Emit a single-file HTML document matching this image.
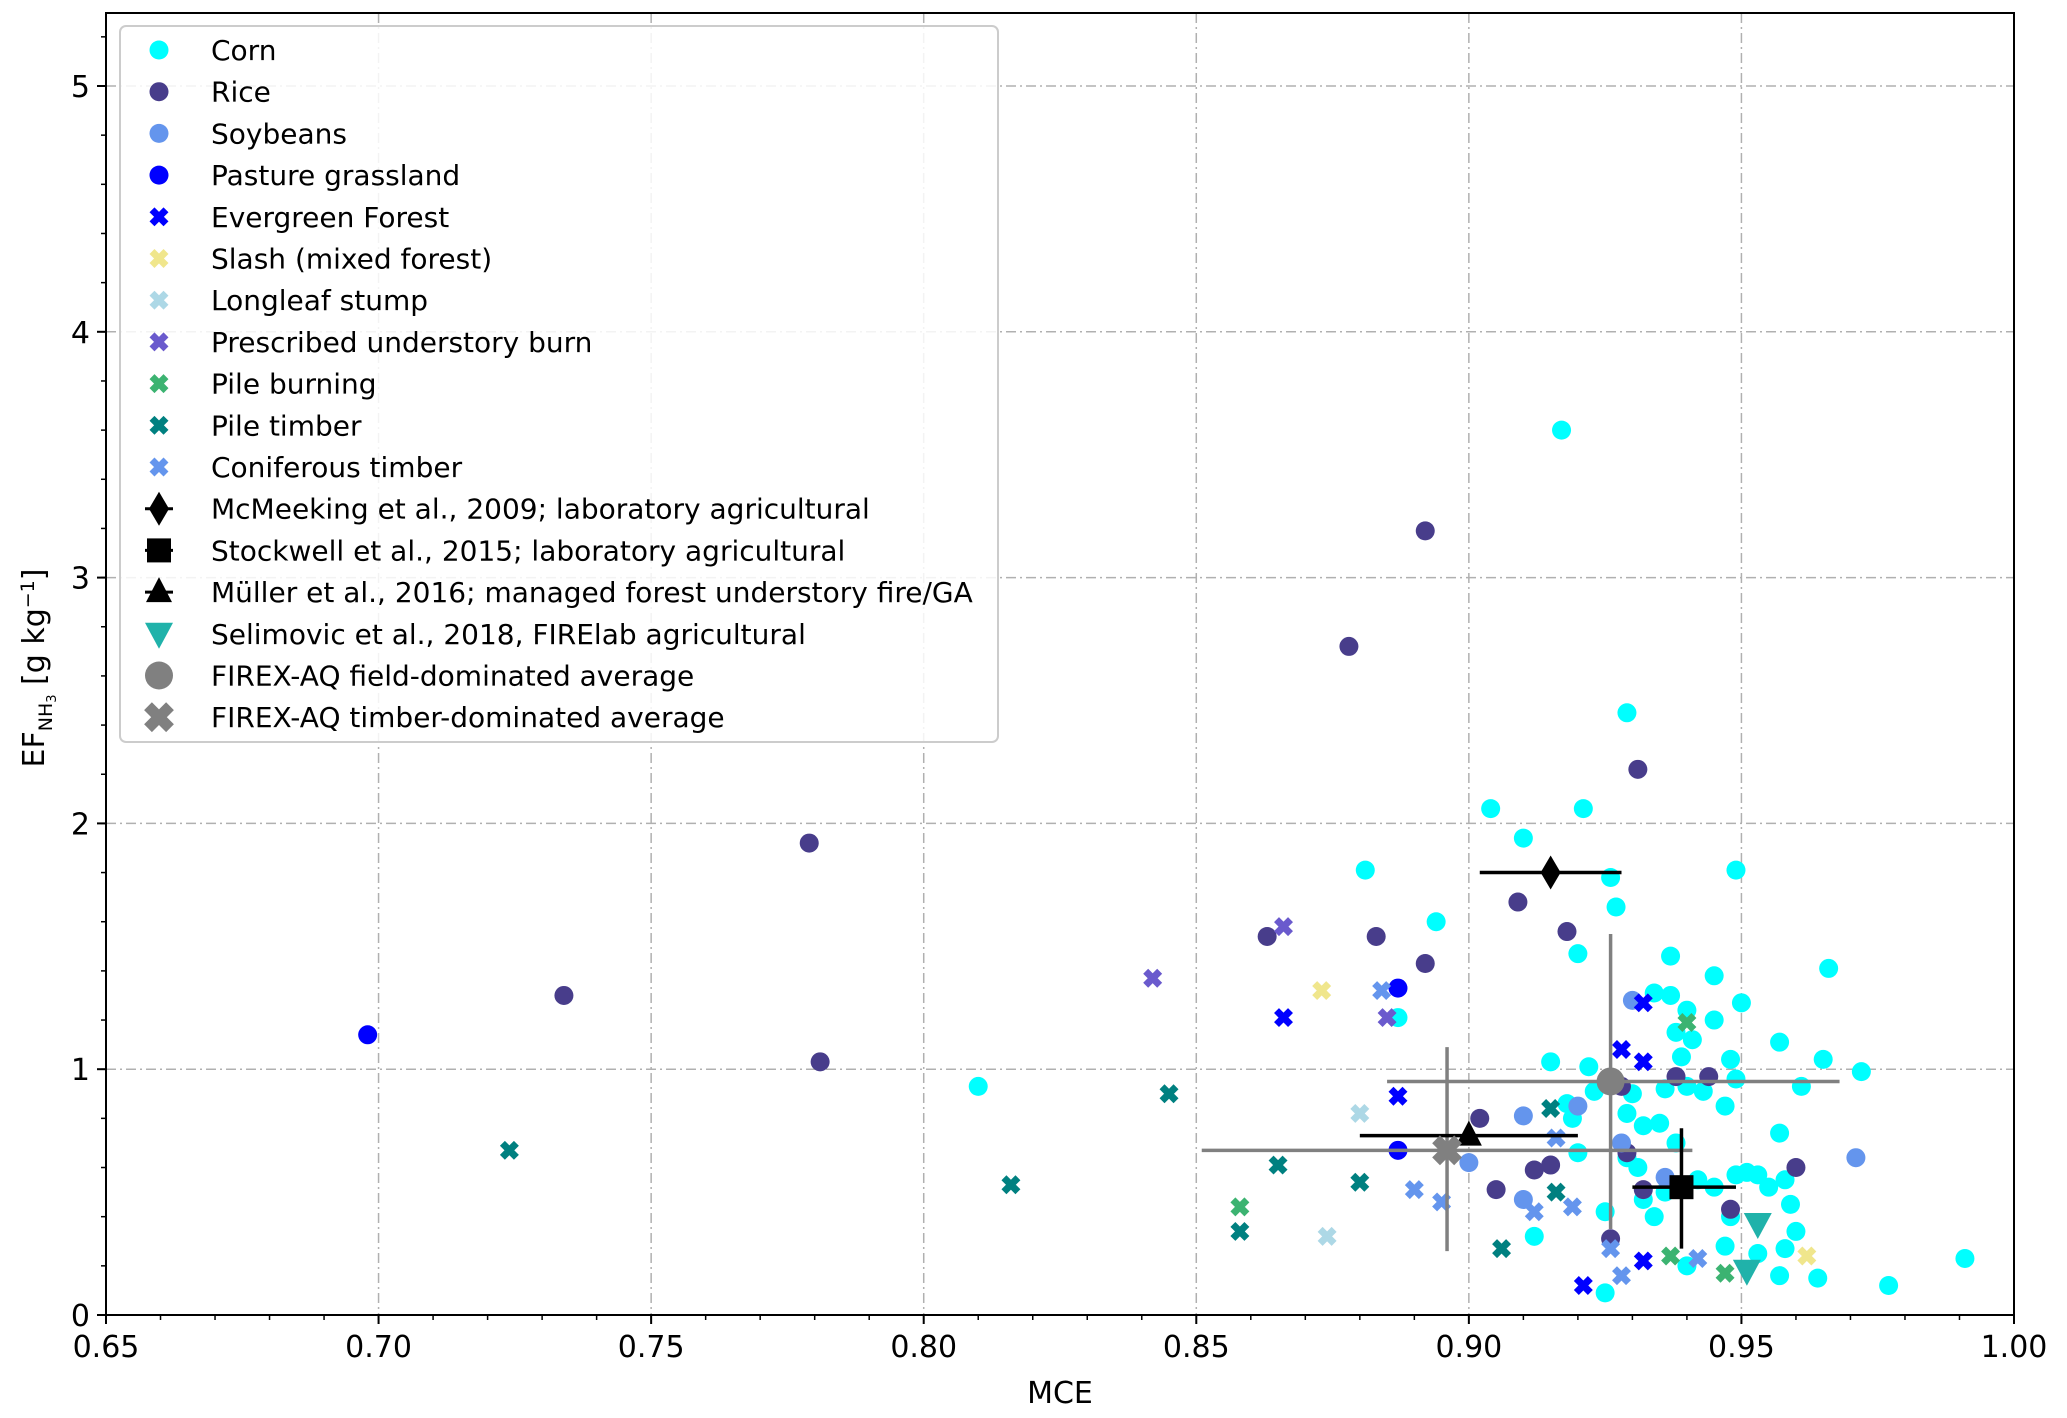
<!DOCTYPE html>
<html><head><meta charset="utf-8"><style>
html,body{margin:0;padding:0;background:#fff;}
svg text{font-family:"DejaVu Sans","Liberation Sans",sans-serif;}
</style></head><body>
<svg id="chart" width="2067" height="1413" xmlns="http://www.w3.org/2000/svg">
<g id="grid"></g>
<g id="marks"></g>
<g id="axes"></g>
<g id="legend"></g>
</svg>
<script>
const xTicks=[0.65,0.70,0.75,0.80,0.85,0.90,0.95,1.00];
const yTicks=[0,1,2,3,4,5];
const corn=[[0.917,3.6],[0.929,2.45],[0.904,2.06],[0.921,2.06],[0.910,1.94],[0.881,1.81],[0.949,1.81],[0.926,1.78],[0.927,1.66],[0.894,1.60],[0.937,1.46],[0.920,1.47],[0.966,1.41],[0.945,1.38],[0.934,1.31],[0.937,1.30],[0.950,1.27],[0.940,1.24],[0.945,1.20],[0.887,1.21],[0.938,1.15],[0.957,1.11],[0.941,1.12],[0.965,1.04],[0.948,1.04],[0.939,1.05],[0.915,1.03],[0.922,1.01],[0.972,0.99],[0.949,0.96],[0.940,0.93],[0.961,0.93],[0.936,0.92],[0.930,0.90],[0.923,0.91],[0.943,0.91],[0.918,0.86],[0.947,0.85],[0.919,0.80],[0.929,0.82],[0.935,0.78],[0.932,0.77],[0.957,0.74],[0.938,0.70],[0.810,0.93],[0.920,0.66],[0.929,0.64],[0.931,0.60],[0.951,0.58],[0.953,0.57],[0.949,0.57],[0.955,0.52],[0.958,0.55],[0.945,0.52],[0.932,0.47],[0.925,0.42],[0.948,0.40],[0.934,0.40],[0.959,0.45],[0.960,0.34],[0.912,0.32],[0.947,0.28],[0.958,0.27],[0.953,0.25],[0.940,0.20],[0.957,0.16],[0.964,0.15],[0.977,0.12],[0.991,0.23],[0.925,0.09],[0.936,0.50],[0.942,0.55]];
const rice=[[0.892,3.19],[0.878,2.72],[0.931,2.22],[0.779,1.92],[0.909,1.68],[0.918,1.56],[0.863,1.54],[0.883,1.54],[0.892,1.43],[0.734,1.30],[0.781,1.03],[0.944,0.97],[0.938,0.97],[0.928,0.93],[0.902,0.80],[0.960,0.60],[0.912,0.59],[0.915,0.61],[0.905,0.51],[0.932,0.51],[0.948,0.43],[0.926,0.31],[0.929,0.66]];
const soybeans=[[0.930,1.28],[0.920,0.85],[0.910,0.81],[0.900,0.62],[0.971,0.64],[0.910,0.47],[0.936,0.56],[0.928,0.70]];
const pasture=[[0.698,1.14],[0.887,1.33],[0.887,0.67]];
const evergreen=[[0.866,1.21],[0.932,1.27],[0.928,1.08],[0.932,1.03],[0.887,0.89],[0.921,0.12],[0.932,0.22]];
const slash=[[0.873,1.32],[0.962,0.24]];
const longleaf=[[0.880,0.82],[0.874,0.32]];
const prescribed=[[0.866,1.58],[0.842,1.37],[0.885,1.21]];
const pileBurning=[[0.858,0.44],[0.940,1.19],[0.937,0.24],[0.947,0.17]];
const pileTimber=[[0.724,0.67],[0.816,0.53],[0.845,0.90],[0.865,0.61],[0.880,0.54],[0.858,0.34],[0.915,0.84],[0.916,0.50],[0.906,0.27]];
const coniferous=[[0.884,1.32],[0.916,0.72],[0.890,0.51],[0.895,0.46],[0.912,0.42],[0.919,0.44],[0.926,0.27],[0.928,0.16],[0.942,0.23]];
// reference values: x, y, xlo, xhi, ylo, yhi
const mcmeeking=[0.915,1.80,0.902,0.928,null,null];
const stockwell=[0.939,0.52,0.930,0.949,0.27,0.76];
const muller=[0.900,0.73,0.880,0.920,null,null];
const selimovic=[[0.953,0.37],[0.951,0.18]];
const fieldAvg=[0.926,0.95,0.885,0.968,0.35,1.55];
const timberAvg=[0.896,0.67,0.851,0.941,0.26,1.09];

const X0=106,X1=2014,Y0=1315,YT=13;
const xs=v=>X0+(v-0.65)/0.35*(X1-X0);
const ys=v=>Y0-v*245.8;
const NS="http://www.w3.org/2000/svg";
function mk(tag,attrs,parent){const e=document.createElementNS(NS,tag);for(const k in attrs)e.setAttribute(k,attrs[k]);parent.appendChild(e);return e;}
const grid=document.getElementById('grid'),marks=document.getElementById('marks'),axes=document.getElementById('axes'),legend=document.getElementById('legend');

xTicks.forEach(t=>{const l=mk('line',{x1:xs(t),x2:xs(t),y1:YT,y2:Y0,stroke:'#b0b0b0','stroke-width':1.5,'stroke-dasharray':'10 4 2 4'},grid);

});
yTicks.forEach(t=>{const l=mk('line',{x1:X0,x2:X1,y1:ys(t),y2:ys(t),stroke:'#b0b0b0','stroke-width':1.5,'stroke-dasharray':'10 4 2 4'},grid);

});

function circle(p,color,r,parent,name){const c=mk('circle',{cx:xs(p[0]),cy:ys(p[1]),r:r,fill:color},parent);

return c;}
function xmark(cx,cy,color,s,parent){const g=mk('g',{},parent);
const d=`M${cx-s},${cy-s}L${cx+s},${cy+s}M${cx-s},${cy+s}L${cx+s},${cy-s}`;
mk('path',{d:d,stroke:color,'stroke-width':s*1.0,'stroke-linecap':'butt',fill:'none'},g);return g;}
function xpts(arr,color,name){arr.forEach(p=>{const g=xmark(xs(p[0]),ys(p[1]),color,7,marks);

});}

corn.forEach(p=>circle(p,'#00ffff',9.5,marks,'corn-point'));
rice.forEach(p=>circle(p,'#483d8b',9.5,marks,'rice-point'));
soybeans.forEach(p=>circle(p,'#6495ed',9.5,marks,'soybeans-point'));
pasture.forEach(p=>circle(p,'#0000ff',9.5,marks,'pasture-point'));
xpts(evergreen,'#0000ff','evergreen-point');
xpts(slash,'#f0e68c','slash-point');
xpts(longleaf,'#add8e6','longleaf-point');
xpts(prescribed,'#6a5acd','prescribed-point');
xpts(pileBurning,'#3cb371','pile-burning-point');
xpts(pileTimber,'#008080','pile-timber-point');
xpts(coniferous,'#6495ed','coniferous-point');

function errbars(r,color,w,name){const g=mk('g',{},marks);


mk('line',{x1:xs(r[2]),x2:xs(r[3]),y1:ys(r[1]),y2:ys(r[1]),stroke:color,'stroke-width':w},g);
if(r[4]!==null)mk('line',{x1:xs(r[0]),x2:xs(r[0]),y1:ys(r[4]),y2:ys(r[5]),stroke:color,'stroke-width':w},g);return g;}
errbars(timberAvg,'#808080',3.5,'timber-average-errorbar');
errbars(fieldAvg,'#808080',3.5,'field-average-errorbar');
errbars(muller,'#000',3.5,'muller-errorbar');
errbars(mcmeeking,'#000',3.5,'mcmeeking-errorbar');
errbars(stockwell,'#000',3.5,'stockwell-errorbar');
function diamond(cx,cy,c,p){return mk('path',{d:`M${cx},${cy-17}L${cx+10},${cy}L${cx},${cy+17}L${cx-10},${cy}Z`,fill:c},p);}
function square(cx,cy,c,p){return mk('rect',{x:cx-12,y:cy-12,width:24,height:24,fill:c},p);}
function tri(cx,cy,c,p){return mk('path',{d:`M${cx},${cy-15}L${cx+13},${cy+10}L${cx-13},${cy+10}Z`,fill:c},p);}
function tridown(cx,cy,c,p){return mk('path',{d:`M${cx-14},${cy-11}L${cx+14},${cy-11}L${cx},${cy+15}Z`,fill:c},p);}
let e;
e=diamond(xs(mcmeeking[0]),ys(mcmeeking[1]),'#000',marks);


e=square(xs(stockwell[0]),ys(stockwell[1]),'#000',marks);


e=tri(xs(muller[0]),ys(muller[1]),'#000',marks);


selimovic.forEach(p=>{const t=tridown(xs(p[0]),ys(p[1]),'#20b2aa',marks);

});
e=mk('circle',{cx:xs(fieldAvg[0]),cy:ys(fieldAvg[1]),r:14,fill:'#808080'},marks);


e=xmark(xs(timberAvg[0]),ys(timberAvg[1]),'#808080',11,marks);



// axes frame
mk('rect',{x:X0,y:YT,width:X1-X0,height:Y0-YT,fill:'none',stroke:'#000','stroke-width':2},axes);
xTicks.forEach(t=>{mk('line',{x1:xs(t),x2:xs(t),y1:Y0,y2:Y0+9,stroke:'#000','stroke-width':2},axes);
const tx=mk('text',{x:xs(t),y:Y0+42,'font-size':30,'text-anchor':'middle'},axes);tx.textContent=t.toFixed(2);

});
for(let i=0;i<=35;i++){const v=0.65+i*0.01;mk('line',{x1:xs(v),x2:xs(v),y1:Y0,y2:Y0+5,stroke:'#000','stroke-width':1.5},axes);}
yTicks.forEach(t=>{mk('line',{x1:X0-9,x2:X0,y1:ys(t),y2:ys(t),stroke:'#000','stroke-width':2},axes);
const tx=mk('text',{x:X0-16,y:ys(t)+11,'font-size':30,'text-anchor':'end'},axes);tx.textContent=String(t);

});
for(let i=0;i<=26;i++){const v=i*0.2;mk('line',{x1:X0-5,x2:X0,y1:ys(v),y2:ys(v),stroke:'#000','stroke-width':1.5},axes);}
e=mk('text',{x:(X0+X1)/2,y:1403,'font-size':30,'text-anchor':'middle'},axes);e.textContent='MCE';


e=mk('text',{transform:'translate(44,668) rotate(-90)','font-size':30,'text-anchor':'middle'},axes);
e.innerHTML='EF<tspan font-size="19" dy="8">NH</tspan><tspan font-size="13" dy="4">3</tspan><tspan dy="-12"> [g kg</tspan><tspan font-size="19" dy="-10">−1</tspan><tspan dy="10">]</tspan>';



// legend
const legLabels=['Corn','Rice','Soybeans','Pasture grassland','Evergreen Forest','Slash (mixed forest)','Longleaf stump','Prescribed understory burn','Pile burning','Pile timber','Coniferous timber','McMeeking et al., 2009; laboratory agricultural','Stockwell et al., 2015; laboratory agricultural','Müller et al., 2016; managed forest understory fire/GA','Selimovic et al., 2018, FIRElab agricultural','FIREX-AQ field-dominated average','FIREX-AQ timber-dominated average'];
e=mk('rect',{x:120,y:26,width:878,height:716,rx:6,fill:'#fff','fill-opacity':0.85,stroke:'#ccc','stroke-width':2},legend);


legLabels.forEach((lab,i)=>{const cy=50+i*41.7,cx=159;const g=mk('g',{},legend);


if(i<4){mk('circle',{cx:cx,cy:cy,r:9.5,fill:['#00ffff','#483d8b','#6495ed','#0000ff'][i]},g);}
else if(i<11){xmark(cx,cy,['#0000ff','#f0e68c','#add8e6','#6a5acd','#3cb371','#008080','#6495ed'][i-4],7,g);}
else if(i===11){diamond(cx,cy,'#000',g);mk('line',{x1:cx-14,x2:cx+14,y1:cy,y2:cy,stroke:'#000','stroke-width':3},g);}
else if(i===12){square(cx,cy,'#000',g);mk('line',{x1:cx-14,x2:cx+14,y1:cy,y2:cy,stroke:'#000','stroke-width':3},g);}
else if(i===13){tri(cx,cy,'#000',g);mk('line',{x1:cx-14,x2:cx+14,y1:cy,y2:cy,stroke:'#000','stroke-width':3},g);}
else if(i===14){tridown(cx,cy,'#20b2aa',g);}
else if(i===15){mk('circle',{cx:cx,cy:cy,r:14,fill:'#808080'},g);}
else {xmark(cx,cy,'#808080',11,g);}
const t=mk('text',{x:211,y:cy+10,'font-size':28},g);t.textContent=lab;});
</script>
</body></html>
